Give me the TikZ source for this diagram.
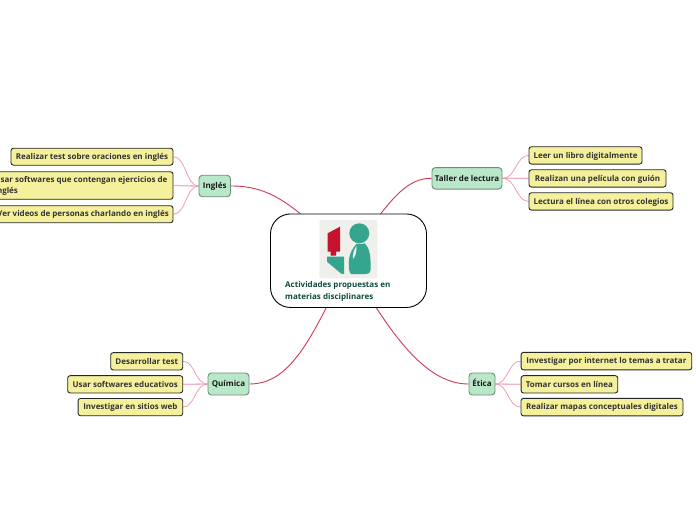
\documentclass[tikz,border=0pt]{standalone}
\usepackage{fontspec}
\setmainfont{Open Sans}
\usetikzlibrary{backgrounds}
\definecolor{ybg}{HTML}{F5F09C}
\definecolor{gbg}{HTML}{B9E8C9}
\definecolor{gbd}{HTML}{6E8C7C}
\definecolor{mainline}{HTML}{CF3A55}
\definecolor{thinline}{HTML}{EE93A8}
\definecolor{logobg}{HTML}{EFEFEB}
\definecolor{logored}{HTML}{C4122F}
\definecolor{logoteal}{HTML}{35A58F}
\definecolor{ctext}{HTML}{0F4A3C}
\tikzset{
  ybox/.style={draw=black!85,line width=0.9pt,fill=ybg,rounded corners=2.5pt,inner sep=0pt,
    font=\fontsize{8}{11}\selectfont\bfseries,text=black!80,align=left},
  sbox/.style={ybox,text height=6pt,text depth=0.5pt},
  gbox/.style={draw=gbd,line width=0.9pt,fill=gbg,rounded corners=3.5pt,inner sep=0pt,
    font=\fontsize{8}{11}\selectfont\bfseries,text=black!90,text height=6pt,text depth=0.5pt},
  cbox/.style={draw=black,line width=0.9pt,fill=white,rounded corners=20pt,inner sep=0pt},
  ctxt/.style={font=\fontsize{8}{12.5}\selectfont\bfseries,text=ctext,align=left,inner sep=0pt,anchor=north west},
  mainconn/.style={draw=mainline,line width=0.9pt},
  thinconn/.style={draw=thinline,line width=0.7pt},
  thickconn/.style={draw=thinline!70,line width=1.3pt}
}
\begin{document}
\begin{tikzpicture}[x=1pt,y=-1pt]
\clip (0,0) rectangle (696,520);
% central topic
\node[cbox,minimum width=156pt,minimum height=93.5pt] (central) at (348.5,260.7) {};
\fill[logobg,rounded corners=2pt] (319.3,220) rectangle (377.3,278.3);
\fill[logored] (327.7,233.3) -- (340,226.7) -- (340,251.7) -- (336,251.7) -- (336,255.7) -- (330.7,255.7) -- (330.7,251.7) -- (327.7,251.7) -- cycle;
\fill[logoteal] (327,256.7) -- (344,256.7) -- (344,274) -- (341,273.5) -- (327,261.7) -- cycle;
\fill[logoteal] (359.3,233.3) circle (10);
\fill[logoteal] (350,273) .. controls (347.5,265) and (348,252) .. (357,243.5) .. controls (362,245) and (366,243) .. (364,243) .. controls (370,247) and (371,258) .. (370.5,270) .. controls (370,274) and (367,274) .. (365,274) -- (353,274) .. controls (351,274) and (350.5,274) .. (350,273) -- cycle;
\fill[logobg] (356.5,246) .. controls (357,252) and (355,257) .. (353,259) .. controls (352.5,254) and (354,249) .. (356.5,246) -- cycle;
\node[ctxt] (ctitle) at (285,280.8) {Actividades propuestas en\\materias disciplinares};
% main topics
\node[gbox,minimum width=31.5pt,minimum height=21.5pt] (ingles) at (214.7,186) {Inglés};
\node[gbox,minimum width=70pt,minimum height=21.5pt] (taller) at (467,178.3) {Taller de lectura};
\node[gbox,minimum width=41pt,minimum height=22pt] (quimica) at (228.5,384) {Química};
\node[gbox,minimum width=26pt,minimum height=22pt] (etica) at (482,384) {Ética};
% subtopics: Ingles
\node[sbox,minimum width=162pt,minimum height=17pt] (i1) at (92,156.7) {Realizar test sobre oraciones en inglés};
\node[ybox,minimum width=184pt,minimum height=27.5pt] (i2) at (81,185.5) {Usar softwares que contengan ejercicios de\\inglés};
\node[sbox,minimum width=180pt,minimum height=17pt] (i3) at (83,214.2) {Ver videos de personas charlando en inglés};
% subtopics: Taller
\node[sbox,minimum width=113pt,minimum height=17.3pt] (t1) at (585.5,155.4) {Leer un libro digitalmente};
\node[sbox,minimum width=137pt,minimum height=17.3pt] (t2) at (597.5,178.4) {Realizan una película con guión};
\node[sbox,minimum width=144pt,minimum height=17.3pt] (t3) at (601,201.4) {Lectura el línea con otros colegios};
% subtopics: Quimica
\node[sbox,minimum width=72pt,minimum height=17.3pt] (q1) at (146.7,361.3) {Desarrollar test};
\node[sbox,minimum width=115pt,minimum height=17.3pt] (q2) at (125.2,384.3) {Usar softwares educativos};
\node[sbox,minimum width=104.7pt,minimum height=17.3pt] (q3) at (130.4,407.1) {Investigar en sitios web};
% subtopics: Etica
\node[sbox,minimum width=170.7pt,minimum height=17.5pt] (e1) at (606.4,361.1) {Investigar por internet lo temas a tratar};
\node[sbox,minimum width=96.7pt,minimum height=17.3pt] (e2) at (569.4,384.3) {Tomar cursos en línea};
\node[sbox,minimum width=162pt,minimum height=17.5pt] (e3) at (602,407.1) {Realizar mapas conceptuales digitales};
% connectors
\begin{scope}[on background layer]
\fill[white] (0,0) rectangle (696,520);
\draw[mainconn] (ingles.east) .. controls (268,186) and (293,201) .. (central.center);
\draw[mainconn] (taller.west) .. controls (408,178) and (390,196) .. (central.center);
\draw[mainconn] (quimica.east) .. controls (288,384) and (310,345) .. (central.center);
\draw[mainconn] (etica.west) .. controls (430,384) and (395,345) .. (central.center);
\draw[thinconn] (ingles.west) .. controls (186,186) and (186,156.7) .. (i1.east);
\draw[thickconn] (ingles.west) -- (i2.east);
\draw[thinconn] (ingles.west) .. controls (186,186) and (186,214.2) .. (i3.east);
\draw[thinconn] (taller.east) .. controls (516,178.3) and (516,155.4) .. (t1.west);
\draw[thickconn] (taller.east) -- (t2.west);
\draw[thinconn] (taller.east) .. controls (516,178.3) and (516,201.4) .. (t3.west);
\draw[thinconn] (quimica.west) .. controls (195,384) and (195,361.3) .. (q1.east);
\draw[thickconn] (quimica.west) -- (q2.east);
\draw[thinconn] (quimica.west) .. controls (195,384) and (195,407.1) .. (q3.east);
\draw[thinconn] (etica.east) .. controls (508,384) and (508,361.1) .. (e1.west);
\draw[thickconn] (etica.east) -- (e2.west);
\draw[thinconn] (etica.east) .. controls (508,384) and (508,407.1) .. (e3.west);
\end{scope}
\end{tikzpicture}
\end{document}
